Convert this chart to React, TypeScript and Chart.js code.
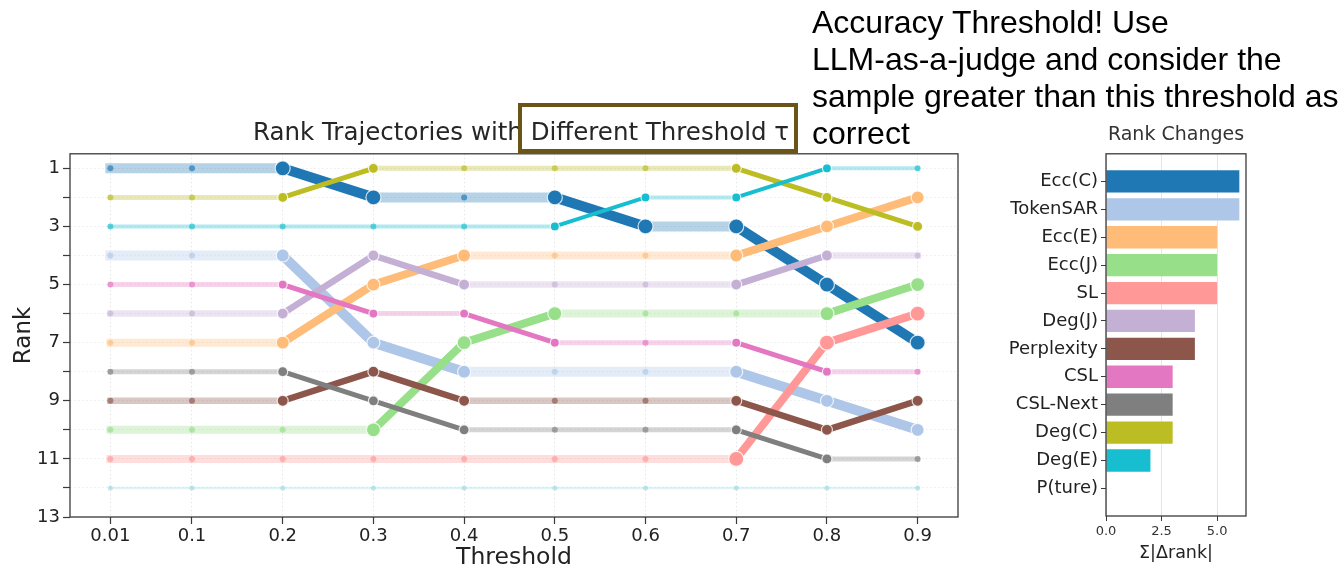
import React, { useEffect, useRef } from 'react';
import { Chart, registerables } from 'chart.js';

Chart.register(...registerables);

// ---------- data ----------
const thresholds = [0.01, 0.1, 0.2, 0.3, 0.4, 0.5, 0.6, 0.7, 0.8, 0.9];
const thresholdLabels = ['0.01', '0.1', '0.2', '0.3', '0.4', '0.5', '0.6', '0.7', '0.8', '0.9'];
const rankTicks = [1, 2, 3, 4, 5, 6, 7, 8, 9, 10, 11, 12, 13];
const rankTickLabels = ['1', '', '3', '', '5', '', '7', '', '9', '', '11', '', '13'];

const methods = ['Ecc(C)', 'TokenSAR', 'Ecc(E)', 'Ecc(J)', 'SL', 'Deg(J)', 'Perplexity', 'CSL', 'CSL-Next', 'Deg(C)', 'Deg(E)', 'P(ture)'];

const rankEccC = [1, 1, 1, 2, 2, 2, 3, 3, 5, 7];
const rankTokenSAR = [4, 4, 4, 7, 8, 8, 8, 8, 9, 10];
const rankEccE = [7, 7, 7, 5, 4, 4, 4, 4, 3, 2];
const rankEccJ = [10, 10, 10, 10, 7, 6, 6, 6, 6, 5];
const rankSL = [11, 11, 11, 11, 11, 11, 11, 11, 7, 6];
const rankDegJ = [6, 6, 6, 4, 5, 5, 5, 5, 4, 4];
const rankPerplexity = [9, 9, 9, 8, 9, 9, 9, 9, 10, 9];
const rankCSL = [5, 5, 5, 6, 6, 7, 7, 7, 8, 8];
const rankCSLNext = [8, 8, 8, 9, 10, 10, 10, 10, 11, 11];
const rankDegC = [2, 2, 2, 1, 1, 1, 1, 1, 2, 3];
const rankDegE = [3, 3, 3, 3, 3, 3, 2, 2, 1, 1];
const rankPTure = [12, 12, 12, 12, 12, 12, 12, 12, 12, 12];

const rankSeries = [rankEccC, rankTokenSAR, rankEccE, rankEccJ, rankSL, rankDegJ, rankPerplexity, rankCSL, rankCSLNext, rankDegC, rankDegE, rankPTure];

const rankChanges = [6, 6, 5, 5, 5, 4, 4, 3, 3, 3, 2, 0];
const barTicks = [0, 2.5, 5];
const barTickLabels = ['0.0', '2.5', '5.0'];

// ---------- styles ----------
const colors = ['#1f77b4', '#aec7e8', '#ffbb78', '#98df8a', '#ff9896', '#c5b0d5', '#8c564b', '#e377c2', '#7f7f7f', '#bcbd22', '#17becf', '#9edae5'];
const lineWidths = [10, 10, 8, 8, 8, 6.5, 6.5, 5, 5, 5, 4, 2.5];
const bigRadius = [7.5, 6.5, 6.5, 7, 7.5, 5.5, 5.5, 4.5, 5, 5, 4.5, 3];

function rgba(hex: string, a: number) {
  const r = parseInt(hex.slice(1, 3), 16);
  const g = parseInt(hex.slice(3, 5), 16);
  const b = parseInt(hex.slice(5, 7), 16);
  return `rgba(${r},${g},${b},${a})`;
}

function isChange(ranks: number[], i: number) {
  return (i > 0 && ranks[i] !== ranks[i - 1]) || (i < ranks.length - 1 && ranks[i] !== ranks[i + 1]);
}

const TRANSPARENT = 'rgba(0,0,0,0)';
const FONT = "'DejaVu Sans', sans-serif";

const framePlugin = {
  id: 'frame',
  afterDraw(chart: any) {
    const { ctx, chartArea } = chart;
    const { left, top, right, bottom } = chartArea;
    ctx.save();
    ctx.strokeStyle = '#3a3a3a';
    ctx.lineWidth = 1.3;
    ctx.strokeRect(left, top, right - left, bottom - top);
    ctx.restore();
  },
};

function TrajectoryChart() {
  const ref = useRef<HTMLCanvasElement>(null);
  useEffect(() => {
    const datasets: any[] = [];
    rankSeries.forEach((ranks, i) => {
      const data = thresholds.map((t, j) => ({ x: t, y: ranks[j] }));
      const c = colors[i];
      const faded = rgba(c, 0.33);
      datasets.push({
        label: methods[i] + ' faded',
        data,
        borderColor: faded,
        borderWidth: lineWidths[i],
        borderCapStyle: 'square',
        borderJoinStyle: 'round',
        pointRadius: 0,
        order: 100 + (11 - i),
        segment: {
          borderColor: (ctx: any) => (ctx.p0.parsed.y === ctx.p1.parsed.y ? faded : TRANSPARENT),
        },
      });
      datasets.push({
        label: methods[i],
        data,
        borderColor: c,
        borderWidth: lineWidths[i],
        borderCapStyle: 'round',
        borderJoinStyle: 'round',
        order: 11 - i,
        pointRadius: (ctx: any) => (isChange(ranks, ctx.dataIndex) ? bigRadius[i] : (i === 11 ? 2.5 : 3)),
        pointBackgroundColor: (ctx: any) => (isChange(ranks, ctx.dataIndex) ? c : rgba(c, 0.65)),
        pointBorderColor: (ctx: any) => (isChange(ranks, ctx.dataIndex) ? 'rgba(255,255,255,0.8)' : TRANSPARENT),
        pointBorderWidth: 1.2,
        segment: {
          borderColor: (ctx: any) => (ctx.p0.parsed.y === ctx.p1.parsed.y ? TRANSPARENT : c),
        },
      });
    });

    const chart = new Chart(ref.current as HTMLCanvasElement, {
      type: 'line',
      data: { datasets },
      plugins: [framePlugin],
      options: {
        animation: false,
        responsive: false,
        events: [],
        layout: { padding: { top: 12, right: 42, left: 0, bottom: 0 } },
        plugins: { legend: { display: false }, tooltip: { enabled: false }, title: { display: false } },
        scales: {
          x: {
            type: 'linear',
            min: -0.0345,
            max: 0.9445,
            afterBuildTicks: (s: any) => {
              s.ticks = thresholds.map((v) => ({ value: v }));
            },
            afterFit: (s: any) => {
              s.height = 52;
            },
            ticks: {
              callback: (_v: any, idx: number) => thresholdLabels[idx],
              font: { family: FONT, size: 18 },
              color: '#222',
              padding: 2,
              maxRotation: 0,
              autoSkip: false,
            },
            grid: {
              color: 'rgba(0,0,0,0.1)',
              lineWidth: 1,
              tickLength: 7,
              tickColor: '#3a3a3a',
              tickWidth: 1.2,
            },
            border: { display: false, dash: [1.5, 2.5] },
            title: {
              display: true,
              text: 'Threshold',
              font: { family: FONT, size: 23.5 },
              color: '#222',
              padding: { top: 0, bottom: -3 },
            },
          },
          y: {
            type: 'linear',
            reverse: true,
            min: 0.5,
            max: 13,
            afterBuildTicks: (s: any) => {
              s.ticks = rankTicks.map((v) => ({ value: v }));
            },
            afterFit: (s: any) => {
              s.width = 70;
            },
            ticks: {
              callback: (_v: any, idx: number) => rankTickLabels[idx],
              font: { family: FONT, size: 18 },
              color: '#222',
              padding: 3,
              autoSkip: false,
            },
            grid: {
              color: 'rgba(0,0,0,0.08)',
              lineWidth: 1,
              tickLength: 7,
              tickColor: '#3a3a3a',
              tickWidth: 1.2,
            },
            border: { display: false, dash: [1.5, 2.5] },
            title: {
              display: true,
              text: 'Rank',
              font: { family: FONT, size: 23 },
              color: '#222',
              padding: { top: 10, bottom: 0 },
            },
          },
        },
      } as any,
    });
    return () => chart.destroy();
  }, []);
  return (
    <canvas
      ref={ref}
      width={1000}
      height={429}
      style={{ position: 'absolute', left: 0, top: 140, width: 1000, height: 429 }}
    />
  );
}

function RankChangeChart() {
  const ref = useRef<HTMLCanvasElement>(null);
  useEffect(() => {
    const chart = new Chart(ref.current as HTMLCanvasElement, {
      type: 'bar',
      data: {
        datasets: [
          {
            label: 'Σ|Δrank|',
            data: rankChanges.map((v, i) => ({ x: v, y: i })),
            backgroundColor: colors,
            borderWidth: 0,
            barPercentage: 0.8,
            categoryPercentage: 1,
          },
        ],
      },
      plugins: [framePlugin],
      options: {
        indexAxis: 'y',
        animation: false,
        responsive: false,
        events: [],
        layout: { padding: { top: 11, right: 94, left: 0, bottom: 0 } },
        plugins: { legend: { display: false }, tooltip: { enabled: false } },
        scales: {
          x: {
            type: 'linear',
            min: 0,
            max: 6.3,
            offset: false,
            afterBuildTicks: (s: any) => {
              s.ticks = barTicks.map((v) => ({ value: v }));
            },
            afterFit: (s: any) => {
              s.height = 53;
            },
            ticks: {
              callback: (_v: any, idx: number) => barTickLabels[idx],
              font: { family: FONT, size: 13 },
              color: '#333',
              padding: 3,
              maxRotation: 0,
              autoSkip: false,
            },
            grid: { color: 'rgba(0,0,0,0.1)', tickLength: 5, tickColor: '#3a3a3a', offset: false },
            border: { display: false },
            title: {
              display: true,
              text: 'Σ|Δrank|',
              font: { family: FONT, size: 17.5 },
              color: '#222',
              padding: { top: 0, bottom: 5 },
            },
          },
          y: {
            type: 'linear',
            reverse: true,
            min: -0.99,
            max: 11.99,
            offset: false,
            afterBuildTicks: (s: any) => {
              s.ticks = methods.map((_m, i) => ({ value: i }));
            },
            afterFit: (s: any) => {
              s.width = 116;
            },
            ticks: {
              callback: (_v: any, idx: number) => methods[idx],
              font: { family: FONT, size: 18 },
              color: '#222',
              padding: 3,
              autoSkip: false,
            },
            grid: { display: true, drawOnChartArea: false, tickLength: 5, tickColor: '#3a3a3a', offset: false },
            border: { display: false },
          },
        },
      } as any,
    });
    return () => chart.destroy();
  }, []);
  return (
    <canvas
      ref={ref}
      width={350}
      height={429}
      style={{ position: 'absolute', left: 990, top: 140, width: 350, height: 429 }}
    />
  );
}

export default function App() {
  return (
    <div style={{ position: 'absolute', left: 0, top: 0, width: 1340, height: 569, background: '#fff', overflow: 'hidden' }}>
      <TrajectoryChart />
      <RankChangeChart />
      <div
        style={{
          position: 'absolute',
          left: 253,
          top: 117,
          fontFamily: FONT,
          fontSize: 24.5,
          lineHeight: '29px',
          color: '#262626',
          whiteSpace: 'nowrap',
        }}
      >
        Rank Trajectories with Different Threshold τ
      </div>
      <div
        style={{
          position: 'absolute',
          left: 518,
          top: 103,
          width: 280,
          height: 50,
          boxSizing: 'border-box',
          border: '4px solid #6b5418',
        }}
      />
      <div
        style={{
          position: 'absolute',
          left: 1076,
          top: 122,
          width: 200,
          textAlign: 'center',
          fontFamily: FONT,
          fontSize: 19,
          lineHeight: '22px',
          color: '#333',
        }}
      >
        Rank Changes
      </div>
      <div
        style={{
          position: 'absolute',
          left: 812,
          top: 4,
          fontFamily: "'Liberation Sans', Arial, sans-serif",
          fontSize: 32,
          lineHeight: '37px',
          color: '#000',
          whiteSpace: 'nowrap',
        }}
      >
        <div>Accuracy Threshold! Use</div>
        <div>LLM-as-a-judge and consider the</div>
        <div>sample greater than this threshold as</div>
        <div>correct</div>
      </div>
    </div>
  );
}
